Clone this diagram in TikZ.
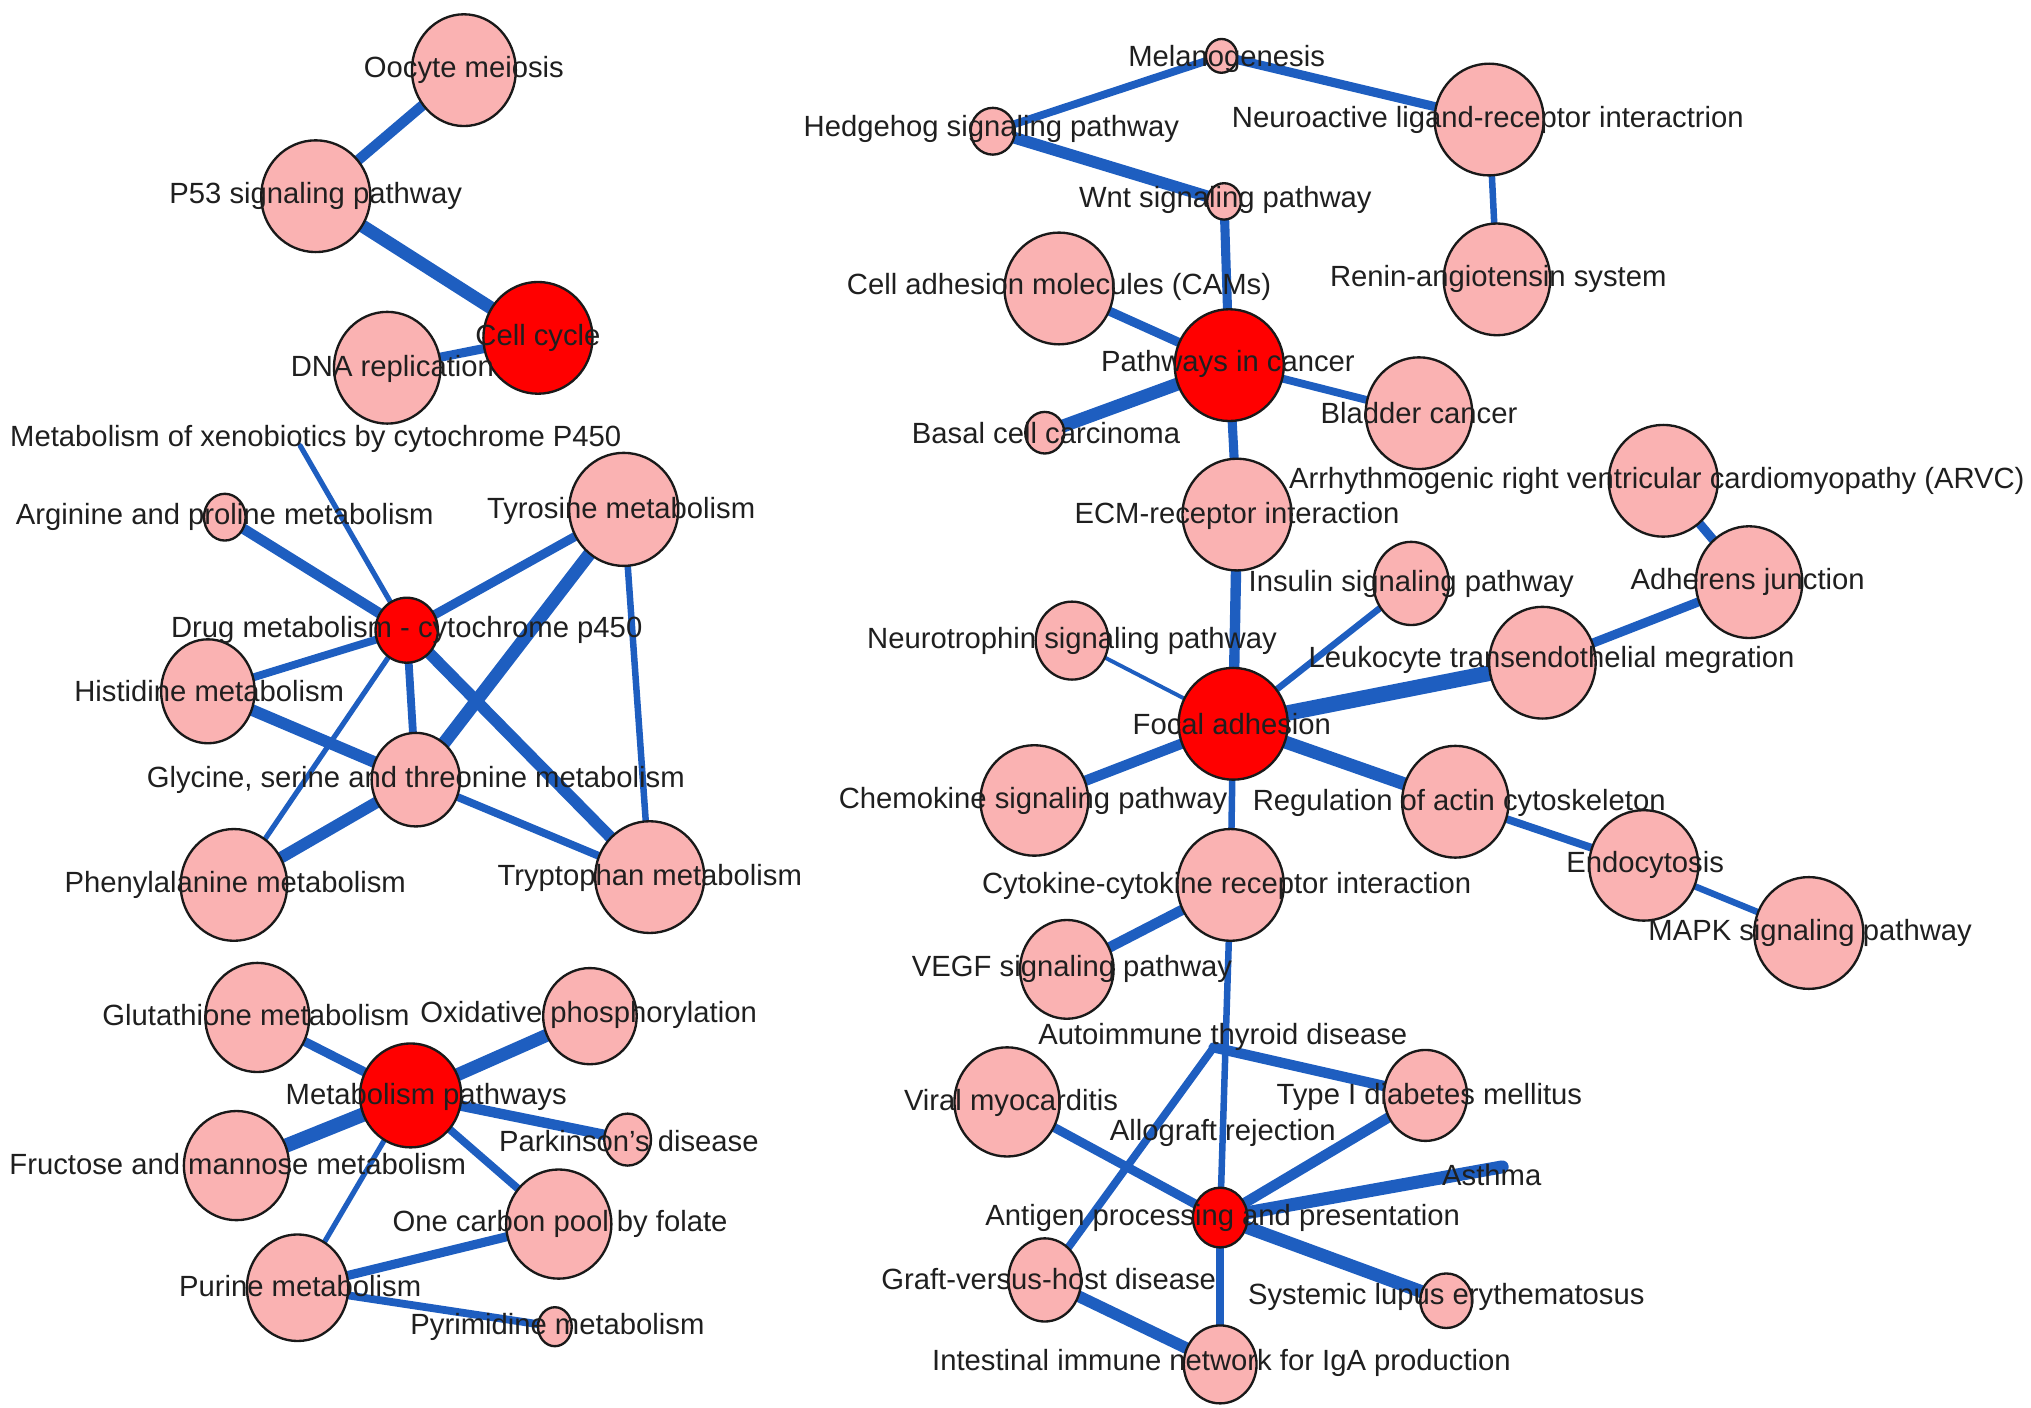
\documentclass[tikz,border=0pt]{standalone}
\usepackage{fontspec}
\setmainfont{Liberation Sans}
\usepackage{tikz}
\usetikzlibrary{shapes.geometric}

\definecolor{pwpink}{RGB}{250,178,178}
\definecolor{pwred}{RGB}{255,0,0}
\definecolor{linkblue}{RGB}{30,94,192}

\begin{document}
\begin{tikzpicture}[x=1pt,y=-1pt]

\pgfdeclarelayer{background}
\pgfsetlayers{background,main}

\tikzstyle{pwnode} = [draw=black!90, line width=1.8pt, ellipse, fill=pwpink, inner sep=0pt]
\tikzstyle{hubnode} = [pwnode, fill=pwred]
\tikzstyle{pwtext} = [inner sep=0pt, text=black!88, font=\fontsize{22.5}{27}\selectfont]
\tikzstyle{pwlink} = [draw=linkblue, line cap=round]

\newcommand{\pwcircle}[5]{\path (#2,#3) node (#1) [pwnode, minimum width=#4, minimum height=#5] {};}
\newcommand{\hubcircle}[5]{\path (#2,#3) node (#1) [hubnode, minimum width=#4, minimum height=#5] {};}
\newcommand{\pwlabel}[3][0,0]{\path (#2)+(#1) node [pwtext] {#3};}
\newcommand{\link}[3]{\draw[pwlink, line width=#3] (#1.center) -- (#2.center);}

\useasboundingbox (0,0) rectangle (1563,1083);

% cell cycle group
\pwcircle{oocyte}{357}{54}{80}{86}
\pwcircle{p53}{243}{151}{84}{86}
\hubcircle{cellcycle}{414}{260}{84}{86}
\pwcircle{dna}{298}{283}{82}{86}

% drug metabolism group
\coordinate (xeno) at (231,343);
\pwcircle{arginine}{173}{398}{32}{36}
\pwcircle{tyrosine}{480}{392}{84}{87}
\hubcircle{drug}{313}{485}{48}{50}
\pwcircle{histidine}{160}{532}{72}{80}
\pwcircle{glycine}{320}{600}{68}{72}
\pwcircle{phenyl}{180}{681}{82}{86}
\pwcircle{trypto}{500}{675}{84}{86}

% metabolism pathways group
\pwcircle{glutathione}{198}{783}{80}{84}
\pwcircle{oxidative}{454}{782}{72}{74}
\hubcircle{metab}{316}{843}{78}{80}
\pwcircle{parkinson}{483}{877}{36}{40}
\pwcircle{fructose}{182}{897}{81}{84}
\pwcircle{onecarbon}{430}{942}{81}{84}
\pwcircle{purine}{229}{991}{78}{82}
\pwcircle{pyrimidine}{427}{1021}{26}{30}

% cancer / focal adhesion group
\pwcircle{melano}{940}{43}{24}{26}
\pwcircle{hedgehog}{764}{101}{34}{36}
\pwcircle{neuro}{1146}{92}{84}{86}
\pwcircle{wnt}{942}{155}{26}{28}
\pwcircle{renin}{1152}{215}{82}{86}
\pwcircle{cams}{815}{222}{84}{86}
\hubcircle{cancer}{946}{281}{84}{86}
\pwcircle{bladder}{1092}{318}{82}{86}
\pwcircle{basal}{804}{333}{30}{32}
\pwcircle{ecm}{952}{396}{84}{86}
\pwcircle{arvc}{1280}{370}{84}{86}
\pwcircle{insulin}{1086}{449}{58}{64}
\pwcircle{adherens}{1346}{448}{82}{86}
\pwcircle{neurotrophin}{825}{493}{56}{60}
\pwcircle{leuko}{1187}{510}{82}{86}
\hubcircle{focal}{949}{557}{84}{86}
\pwcircle{chemokine}{796}{616}{83}{85}
\pwcircle{regulation}{1120}{617}{82}{86}
\pwcircle{endocytosis}{1265}{666}{84}{85}
\pwcircle{cytokine}{947}{681}{82}{86}
\pwcircle{mapk}{1392}{718}{84}{86}
\pwcircle{vegf}{821}{746}{72}{76}

% immune group
\coordinate (autoimmune) at (934,806);
\coordinate (asthma) at (1156,898);
\pwcircle{viral}{775}{848}{81}{84}
\pwcircle{typeone}{1097}{843}{64}{70}
\hubcircle{antigen}{939}{937}{42}{46}
\pwcircle{graft}{804}{985}{56}{64}
\pwcircle{lupus}{1113}{1001}{40}{42}
\pwcircle{intestinal}{939}{1050}{56}{60}

\begin{pgfonlayer}{background}
\link{oocyte}{p53}{8}
\link{p53}{cellcycle}{10}
\link{dna}{cellcycle}{7}
\link{drug}{xeno}{4}
\link{drug}{arginine}{8}
\link{drug}{tyrosine}{7}
\link{drug}{histidine}{6}
\link{drug}{glycine}{6}
\link{drug}{phenyl}{4}
\link{drug}{trypto}{9}
\link{tyrosine}{glycine}{10}
\link{tyrosine}{trypto}{5}
\link{histidine}{glycine}{9}
\link{glycine}{phenyl}{9}
\link{glycine}{trypto}{6}
\link{metab}{glutathione}{7}
\link{metab}{oxidative}{10}
\link{metab}{parkinson}{8}
\link{metab}{fructose}{11}
\link{metab}{onecarbon}{6}
\link{metab}{purine}{4}
\link{purine}{onecarbon}{7}
\link{purine}{pyrimidine}{6}
\link{melano}{hedgehog}{6}
\link{melano}{neuro}{7}
\link{hedgehog}{wnt}{9}
\link{neuro}{renin}{5}
\link{wnt}{cancer}{7}
\link{cams}{cancer}{7}
\link{cancer}{bladder}{6}
\link{cancer}{basal}{10}
\link{cancer}{ecm}{7}
\link{ecm}{focal}{8}
\link{arvc}{adherens}{7}
\link{adherens}{leuko}{7}
\link{focal}{insulin}{5}
\link{focal}{neurotrophin}{3}
\link{focal}{leuko}{12}
\link{focal}{chemokine}{8}
\link{focal}{regulation}{10}
\link{focal}{cytokine}{5}
\link{regulation}{endocytosis}{6}
\link{endocytosis}{mapk}{5}
\link{cytokine}{vegf}{8}
\link{cytokine}{antigen}{5}
\link{autoimmune}{typeone}{8}
\link{autoimmune}{graft}{6}
\link{viral}{antigen}{7}
\link{antigen}{typeone}{8}
\link{antigen}{asthma}{10}
\link{antigen}{lupus}{10}
\link{antigen}{intestinal}{6}
\link{graft}{intestinal}{9}
\end{pgfonlayer}

\pwlabel{oocyte}{Oocyte meiosis}
\pwlabel{p53}{P53 signaling pathway}
\pwlabel{cellcycle}{Cell cycle}
\pwlabel[4,1]{dna}{DNA replication}
\pwlabel[12,-5]{xeno}{Metabolism of xenobiotics by cytochrome P450}
\pwlabel{arginine}{Arginine and proline metabolism}
\pwlabel[-2,1]{tyrosine}{Tyrosine metabolism}
\pwlabel{drug}{Drug metabolism - cytochrome p450}
\pwlabel[1,0]{histidine}{Histidine metabolism}
\pwlabel{glycine}{Glycine, serine and threonine metabolism}
\pwlabel[1,0]{phenyl}{Phenylalanine metabolism}
\pwlabel[0,1]{trypto}{Tryptophan metabolism}
\pwlabel[-1,-2]{glutathione}{Glutathione metabolism}
\pwlabel[-1,-1]{oxidative}{Oxidative phosphorylation}
\pwlabel[12,1]{metab}{Metabolism pathways}
\pwlabel[1,1]{parkinson}{Parkinson’s disease}
\pwlabel[1,-1]{fructose}{Fructose and mannose metabolism}
\pwlabel[1,0]{onecarbon}{One carbon pool by folate}
\pwlabel[2,-1]{purine}{Purine metabolism}
\pwlabel[2,0]{pyrimidine}{Pyrimidine metabolism}
\pwlabel[4,2]{melano}{Melanogenesis}
\pwlabel[-1,-2]{hedgehog}{Hedgehog signaling pathway}
\pwlabel[-1,0]{neuro}{Neuroactive ligand-receptor interactrion}
\pwlabel[1,-1]{wnt}{Wnt signaling pathway}
\pwlabel[1,0]{renin}{Renin-angiotensin system}
\pwlabel[0,-1]{cams}{Cell adhesion molecules (CAMs)}
\pwlabel[-1,-1]{cancer}{Pathways in cancer}
\pwlabel{bladder}{Bladder cancer}
\pwlabel[1,0]{basal}{Basal cell carcinoma}
\pwlabel[0,1]{ecm}{ECM-receptor interaction}
\pwlabel[-5,0]{arvc}{Arrhythmogenic right ventricular cardiomyopathy (ARVC)}
\pwlabel{insulin}{Insulin signaling pathway}
\pwlabel[-1,0]{adherens}{Adherens junction}
\pwlabel{neurotrophin}{Neurotrophin signaling pathway}
\pwlabel[7,-2]{leuko}{Leukocyte transendothelial megration}
\pwlabel[-1,0]{focal}{Focal adhesion}
\pwlabel[-1,0]{chemokine}{Chemokine signaling pathway}
\pwlabel[3,1]{regulation}{Regulation of actin cytoskeleton}
\pwlabel[1,0]{endocytosis}{Endocytosis}
\pwlabel[-3,1]{cytokine}{Cytokine-cytokine receptor interaction}
\pwlabel[1,0]{mapk}{MAPK signaling pathway}
\pwlabel[4,0]{vegf}{VEGF signaling pathway}
\pwlabel[7,-8]{autoimmune}{Autoimmune thyroid disease}
\pwlabel[3,1]{viral}{Viral myocarditis}
\pwlabel[3,1]{typeone}{Type I diabetes mellitus}
\pwlabel[2,-65]{antigen}{Allograft rejection}
\pwlabel[-8,6]{asthma}{Asthma}
\pwlabel[2,0]{antigen}{Antigen processing and presentation}
\pwlabel[3,-1]{graft}{Graft-versus-host disease}
\pwlabel[0,-3]{lupus}{Systemic lupus erythematosus}
\pwlabel[1,-1]{intestinal}{Intestinal immune network for IgA production}

\end{tikzpicture}
\end{document}
